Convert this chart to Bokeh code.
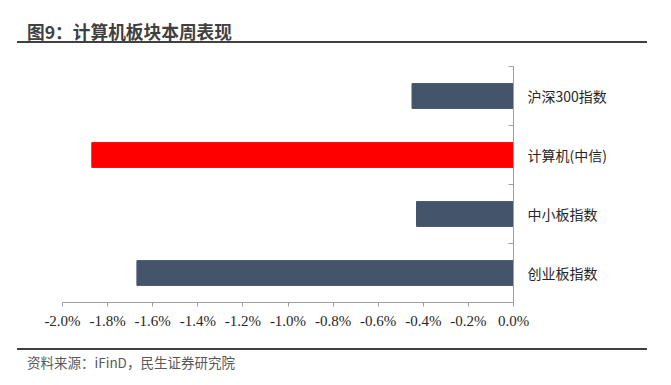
from bokeh.plotting import figure
from bokeh.models import (Range1d, FixedTicker, PrintfTickFormatter, CustomJSTickFormatter,
                          ColumnDataSource, Div)
from bokeh.layouts import column
from bokeh.embed import file_html
from bokeh.resources import INLINE

# ---- data ----
title_text = "图9：计算机板块本周表现"
source_text = "资料来源：iFinD，民生证券研究院"
categories = ["沪深300指数", "计算机(中信)", "中小板指数", "创业板指数"]   # top to bottom
values = [-0.45, -1.87, -0.43, -1.67]   # weekly change, %
bar_colors = ["#44546A", "#FF0000", "#44546A", "#44546A"]
x_ticks = [-2.0, -1.8, -1.6, -1.4, -1.2, -1.0, -0.8, -0.6, -0.4, -0.2, 0.0]

n = len(categories)
ypos = [n - 0.5 - i for i in range(n)]
src = ColumnDataSource(dict(y=ypos, v=values, c=bar_colors, name=categories))

p = figure(width=671, height=305, output_backend="svg", toolbar_location=None,
           x_range=Range1d(-2.0, 0.0), y_range=Range1d(0, n),
           y_axis_location="right",
           min_border_left=62, min_border_right=158, min_border_top=23, min_border_bottom=46)
p.outline_line_color = None
p.xgrid.grid_line_color = None
p.ygrid.grid_line_color = None
p.background_fill_color = "white"
p.border_fill_color = "white"

p.hbar(y="y", left=0, right="v", height=0.42, color="c", source=src)

# x axis
xa = p.xaxis[0]
xa.ticker = FixedTicker(ticks=x_ticks, minor_ticks=[])
xa.formatter = PrintfTickFormatter(format="%.1f%%")
xa.axis_line_color = "#A0A0A0"
xa.major_tick_line_color = "#A0A0A0"
xa.major_tick_out = 4
xa.major_tick_in = 0
xa.minor_tick_line_color = None
xa.major_label_standoff = 6
xa.major_label_text_font = "Liberation Serif"
xa.major_label_text_font_size = "15px"
xa.major_label_text_color = "#262626"

# y axis (categories on the right, boundary ticks)
ya = p.yaxis[0]
ya.ticker = FixedTicker(ticks=ypos, minor_ticks=list(range(n + 1)))
ya.formatter = CustomJSTickFormatter(args=dict(labs=categories, n=n),
                                     code="return labs[n - 1 - Math.floor(tick)];")
ya.axis_line_color = "#A0A0A0"
ya.major_tick_line_color = None
ya.major_tick_in = 0
ya.major_tick_out = 0
ya.minor_tick_line_color = "#A0A0A0"
ya.minor_tick_in = 5
ya.minor_tick_out = 0
ya.major_label_standoff = 14
ya.major_label_text_font = "Noto Sans CJK SC"
ya.major_label_text_font_size = "14px"
ya.major_label_text_color = "#262626"

title_div = Div(
    text=('<div style="padding:21px 0 0 10px;line-height:20px;font-family:\'Noto Sans CJK SC\';'
          'font-weight:bold;font-size:17.7px;color:#404040;white-space:nowrap;">'
          + title_text + '</div>'),
    width=630, height=43, margin=(0, 0, 0, 17),
    styles={"border-bottom": "2px solid #404040", "box-sizing": "border-box"})

source_div = Div(
    text=('<div style="padding:4px 0 0 10px;line-height:16px;font-family:\'Noto Sans CJK SC\';'
          'font-size:13.5px;color:#595959;white-space:nowrap;">'
          + source_text + '</div>'),
    width=630, height=37, margin=(0, 0, 0, 17),
    styles={"border-top": "2px solid #404040", "box-sizing": "border-box"})

layout = column(title_div, p, source_div, spacing=0)

open("out.html", "w").write(file_html(layout, INLINE))
